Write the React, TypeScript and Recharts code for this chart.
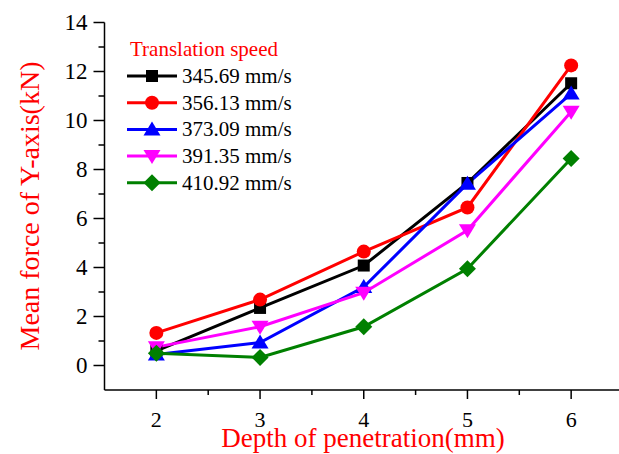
import React from 'react'
import { LineChart, Line, XAxis, YAxis } from 'recharts'

// depth of penetration (mm)
const depths = [2, 3, 4, 5, 6]

// mean Y-axis force (kN) per translation speed
const speed345 = [0.6, 2.35, 4.08, 7.45, 11.52]
const speed356 = [1.33, 2.69, 4.65, 6.45, 12.25]
const speed373 = [0.45, 0.94, 3.2, 7.42, 11.1]
const speed391 = [0.75, 1.58, 2.97, 5.52, 10.36]
const speed410 = [0.5, 0.33, 1.58, 3.95, 8.45]

const speedLabels = ['345.69 mm/s', '356.13 mm/s', '373.09 mm/s', '391.35 mm/s', '410.92 mm/s']

const xTicks = [2, 2.5, 3, 3.5, 4, 4.5, 5, 5.5, 6]
const topTicks = [1.5, 2, 2.5, 3, 3.5, 4, 4.5, 5, 5.5, 6, 6.5]
const yTicks = [0, 1, 2, 3, 4, 5, 6, 7, 8, 9, 10, 11, 12, 13, 14]

const serif = { fontFamily: "'Liberation Serif', 'Times New Roman', serif" }

const data = depths.map((d, i) => ({
  depth: d,
  s345: speed345[i],
  s356: speed356[i],
  s373: speed373[i],
  s391: speed391[i],
  s410: speed410[i],
}))

const series = [
  { key: 's345', color: '#000000', shape: 'square' },
  { key: 's356', color: '#ff0000', shape: 'circle' },
  { key: 's373', color: '#0000ff', shape: 'up' },
  { key: 's391', color: '#ff00ff', shape: 'down' },
  { key: 's410', color: '#008000', shape: 'diamond' },
]

function Marker({ cx, cy, shape, color }: { cx: number; cy: number; shape: string; color: string }) {
  if (shape === 'square') return <rect x={cx - 6} y={cy - 6} width={12} height={12} fill={color} />
  if (shape === 'circle') return <circle cx={cx} cy={cy} r={7} fill={color} />
  if (shape === 'up')
    return <polygon points={`${cx},${cy - 8} ${cx - 8.5},${cy + 6} ${cx + 8.5},${cy + 6}`} fill={color} />
  if (shape === 'down')
    return <polygon points={`${cx},${cy + 8} ${cx - 8.5},${cy - 6} ${cx + 8.5},${cy - 6}`} fill={color} />
  return <polygon points={`${cx},${cy - 8.5} ${cx + 8.5},${cy} ${cx},${cy + 8.5} ${cx - 8.5},${cy}`} fill={color} />
}

const AXIS_X = 104.5
const AXIS_Y = 390

function YTick(props: any) {
  const { y, payload } = props
  const major = payload.value % 2 === 0
  return (
    <g>
      <line x1={AXIS_X - (major ? 11 : 6)} x2={AXIS_X} y1={y} y2={y} stroke="#000" strokeWidth={1.5} />
      {major && (
        <text x={AXIS_X - 17} y={y} textAnchor="end" dominantBaseline="central" fontSize={23} style={serif} fill="#000">
          {payload.value}
        </text>
      )}
    </g>
  )
}

function XTick(props: any) {
  const { x, payload } = props
  const major = Number.isInteger(payload.value)
  return (
    <g>
      <line x1={x} x2={x} y1={AXIS_Y} y2={AXIS_Y + (major ? 9 : 5)} stroke="#000" strokeWidth={1.5} />
      {major && (
        <text x={x} y={AXIS_Y + 37} textAnchor="middle" fontSize={22} style={serif} fill="#000">
          {payload.value}
        </text>
      )}
    </g>
  )
}

function TopTick(props: any) {
  const { x } = props
  return <line x1={x} x2={x} y1={22.5} y2={26} stroke="#000" strokeWidth={1} />
}

function LegendBox() {
  return (
    <svg width={190} height={170} style={{ display: 'block' }}>
      <text x={5} y={13} dominantBaseline="central" fontSize={21} style={serif} fill="#ff0000">
        Translation speed
      </text>
      {series.map((s, i) => {
        const cy = 40 + i * 26.7
        return (
          <g key={s.key}>
            <line x1={2} x2={52} y1={cy} y2={cy} stroke={s.color} strokeWidth={3} />
            <Marker cx={27} cy={cy} shape={s.shape} color={s.color} />
            <text x={57} y={cy} dominantBaseline="central" fontSize={21} style={serif} fill="#000">
              {speedLabels[i]}
            </text>
          </g>
        )
      })}
    </svg>
  )
}

export default function App() {
  return (
    <div style={{ position: 'absolute', left: 0, top: 0, width: 619, height: 454, overflow: 'hidden', background: '#fff' }}>
      <LineChart width={650} height={454} data={data} margin={{ top: 22.5, right: 27, left: 0, bottom: 0 }}>
        <XAxis
          dataKey="depth"
          type="number"
          domain={[1.5, 6.5]}
          ticks={xTicks}
          interval={0}
          height={64}
          axisLine={{ stroke: '#000', strokeWidth: 1.5 }}
          tickLine={false}
          tick={<XTick />}
          label={{
            content: () => (
              <text x={363} y={447} textAnchor="middle" fontSize={27} style={serif} fill="#ff0000">
                Depth of penetration(mm)
              </text>
            ),
          }}
        />
        <XAxis
          xAxisId="top"
          dataKey="depth"
          orientation="top"
          type="number"
          domain={[1.5, 6.5]}
          ticks={topTicks}
          interval={0}
          height={0}
          axisLine={{ stroke: '#000', strokeWidth: 1.5 }}
          tickLine={false}
          tick={<TopTick />}
        />
        <YAxis
          type="number"
          domain={[-1, 14]}
          ticks={yTicks}
          interval={0}
          width={104.5}
          axisLine={{ stroke: '#000', strokeWidth: 1.5 }}
          tickLine={false}
          tick={<YTick />}
          label={{
            content: () => (
              <text
                x={29}
                y={206}
                transform="rotate(-90 29 206)"
                textAnchor="middle"
                dominantBaseline="central"
                fontSize={28}
                style={serif}
                fill="#ff0000"
              >
                Mean force of Y-axis(kN)
              </text>
            ),
          }}
        />
        {series.map((s) => (
          <Line
            key={s.key}
            dataKey={s.key}
            stroke={s.color}
            strokeWidth={3}
            isAnimationActive={false}
            dot={(p: any) => <Marker key={`${s.key}-${p.index}`} cx={p.cx} cy={p.cy} shape={s.shape} color={s.color} />}
            activeDot={false}
          />
        ))}
      </LineChart>
      <div style={{ position: 'absolute', left: 125, top: 36 }}>
        <LegendBox />
      </div>
    </div>
  )
}
